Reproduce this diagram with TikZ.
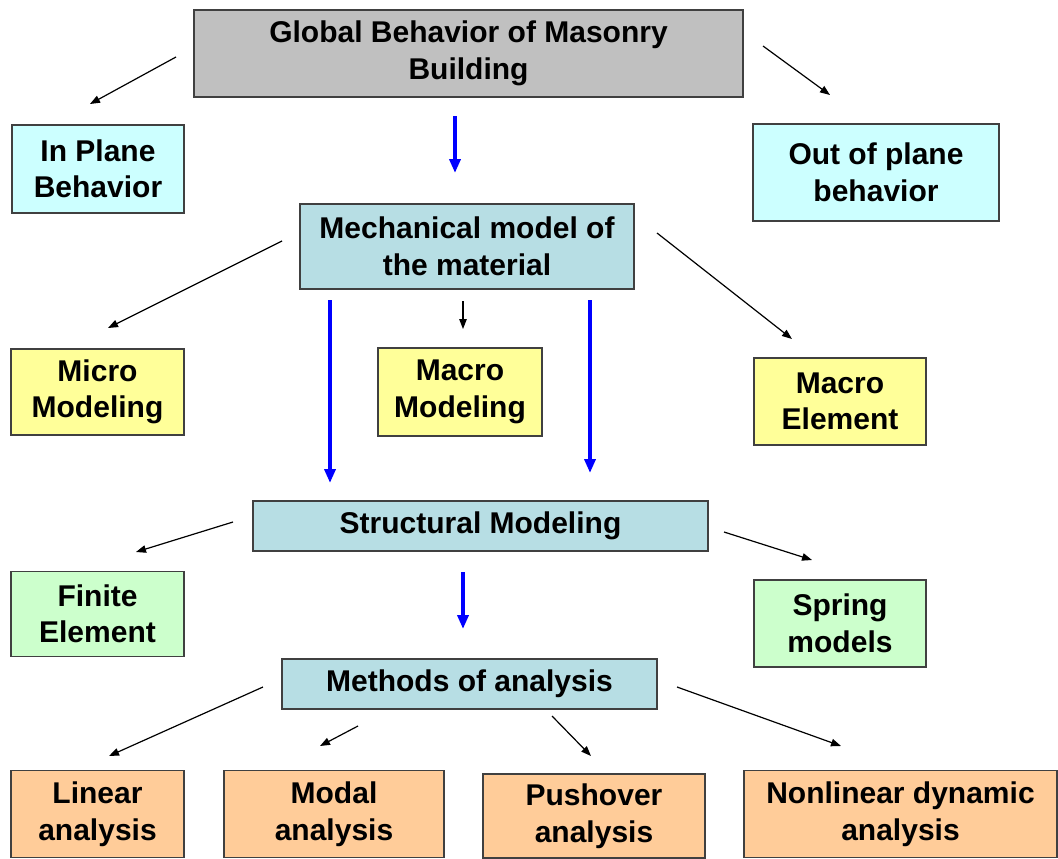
\documentclass[tikz,border=0pt]{standalone}
\usepackage{fontspec}
\setmainfont{Liberation Sans}
\usetikzlibrary{arrows.meta}
\definecolor{cgray}{HTML}{C0C0C0}
\definecolor{ccyan}{HTML}{CCFFFF}
\definecolor{cteal}{HTML}{B7DEE4}
\definecolor{cyellow}{HTML}{FFFF99}
\definecolor{cgreen}{HTML}{CCFFCC}
\definecolor{cpeach}{HTML}{FFCC99}
\definecolor{cborder}{HTML}{404040}
\tikzset{
  box/.style={draw=cborder, line width=1.3pt, inner sep=0pt, align=center,
    font=\fontsize{30}{36.5}\selectfont\bfseries},
  thinarrow/.style={line width=1.2pt, -{Triangle[length=10pt,width=7.5pt]}},
  bluearrow/.style={draw=blue, line width=3.5pt, -{Triangle[length=14pt,width=11pt]}}
}
\begin{document}
\begin{tikzpicture}[x=1pt,y=-1pt]
\useasboundingbox (0,0) rectangle (1058,859);
% nodes
\node[box, fill=cgray, minimum width=549pt, minimum height=87pt] (global) at (468.5,53.5) {Global Behavior of Masonry\\Building};
\node[box, fill=ccyan, minimum width=172pt, minimum height=88pt] (inplane) at (98,169) {In Plane\\Behavior};
\node[box, fill=ccyan, minimum width=246pt, minimum height=97pt] (outplane) at (876,172.5) {Out of plane\\behavior};
\node[box, fill=cteal, minimum width=334pt, minimum height=85pt] (mech) at (467,246.5) {Mechanical model of\\the material};
\node[box, fill=cyellow, minimum width=173pt, minimum height=86pt] (micro) at (97.5,392) {Micro\\Modeling};
\node[box, fill=cyellow, minimum width=164pt, minimum height=88pt] (macromod) at (460,392) {Macro\\Modeling};
\node[box, fill=cyellow, minimum width=172pt, minimum height=87pt] (macroel) at (840,401.5) {Macro\\Element};
\node[box, fill=cteal, minimum width=455pt, minimum height=50pt] (struct) at (480.5,526) {Structural Modeling};
\node[box, fill=cgreen, minimum width=173pt, minimum height=85pt] (finite) at (97.5,614) {Finite\\Element};
\node[box, fill=cgreen, minimum width=172pt, minimum height=87pt] (spring) at (840,623.5) {Spring\\models};
\node[box, fill=cteal, minimum width=375pt, minimum height=50pt] (methods) at (469.5,684) {Methods of analysis};
\node[box, fill=cpeach, minimum width=173pt, minimum height=87pt] (linear) at (97.5,814) {Linear\\analysis};
\node[box, fill=cpeach, minimum width=220pt, minimum height=87pt] (modal) at (334,814) {Modal\\analysis};
\node[box, fill=cpeach, minimum width=222pt, minimum height=84pt] (pushover) at (594,816) {Pushover\\analysis};
\node[box, fill=cpeach, minimum width=313pt, minimum height=87pt] (nonlin) at (900.5,814) {Nonlinear dynamic\\analysis};
% connector end points
\coordinate (g1) at (176,57);   \coordinate (ip) at (90,104);
\coordinate (g2) at (763,46);   \coordinate (op) at (830,95);
\coordinate (g3) at (455,116);  \coordinate (mt) at (455,173);
\coordinate (m1) at (282,241);  \coordinate (mi) at (108,328);
\coordinate (m2) at (463,301);  \coordinate (mm) at (463,329);
\coordinate (m3) at (657,233);  \coordinate (me) at (792,339);
\coordinate (m4) at (330,300);  \coordinate (s1) at (330,483);
\coordinate (m5) at (590,300);  \coordinate (s2) at (590,473);
\coordinate (st1) at (233,522); \coordinate (fe) at (136,552);
\coordinate (st2) at (724,532); \coordinate (sp) at (812,560);
\coordinate (st3) at (463,572); \coordinate (mo) at (463,629);
\coordinate (me1) at (263,687); \coordinate (li) at (109,756);
\coordinate (me2) at (358,726); \coordinate (md) at (320,746);
\coordinate (me3) at (552,716); \coordinate (pu) at (591,756);
\coordinate (me4) at (677,687); \coordinate (nl) at (841,746);
% connectors
\draw[thinarrow] (g1) -- (ip);
\draw[thinarrow] (g2) -- (op);
\draw[bluearrow] (g3) -- (mt);
\draw[thinarrow] (m1) -- (mi);
\draw[thinarrow] (m2) -- (mm);
\draw[thinarrow] (m3) -- (me);
\draw[bluearrow] (m4) -- (s1);
\draw[bluearrow] (m5) -- (s2);
\draw[thinarrow] (st1) -- (fe);
\draw[thinarrow] (st2) -- (sp);
\draw[bluearrow] (st3) -- (mo);
\draw[thinarrow] (me1) -- (li);
\draw[thinarrow] (me2) -- (md);
\draw[thinarrow] (me3) -- (pu);
\draw[thinarrow] (me4) -- (nl);
\end{tikzpicture}
\end{document}
